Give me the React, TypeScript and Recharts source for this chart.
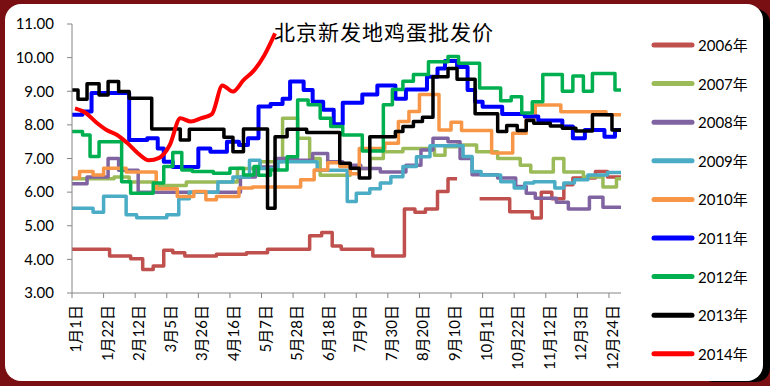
import React from "react";
import { LineChart, Line, XAxis, YAxis } from "recharts";

// x positions are day-of-year (0 = 1月1日); step series list the day each new price starts
const dayTicks = [0, 21, 42, 63, 84, 105, 126, 147, 168, 189, 210, 231, 252, 273, 294, 315, 336, 357];
const tickLabels = [
  "1月1日", "1月22日", "2月12日", "3月5日", "3月26日", "4月16日", "5月7日", "5月28日", "6月18日",
  "7月9日", "7月30日", "8月20日", "9月10日", "10月1日", "10月22日", "11月12日", "12月3日", "12月24日",
];
const yTicks = [3, 4, 5, 6, 7, 8, 9, 10, 11];

const days2006 = [0, 25, 39, 47, 54, 61, 67, 75, 96, 116, 130, 158, 166, 173, 179, 200, 221, 228, 235, 243, 250, 256, 271, 291, 306, 312, 319, 327, 333, 348, 356];
const vals2006 = [4.3, 4.1, 4.02, 3.7, 3.8, 4.27, 4.2, 4.1, 4.15, 4.2, 4.3, 4.7, 4.8, 4.4, 4.3, 4.1, 5.5, 5.4, 5.5, 6.02, 6.4, null, 5.8, 5.42, 5.23, 6.0, 5.8, 6.22, 6.42, 6.61, 6.45];

const days2007 = [0, 28, 38, 56, 76, 110, 125, 140, 150, 158, 165, 185, 198, 207, 220, 241, 248, 256, 269, 283, 298, 305, 320, 327, 340, 353, 362];
const vals2007 = [6.4, 6.45, 6.3, 6.2, 6.3, 6.7, 6.9, 8.2, 7.6, 7.0, 6.5, 6.7, 7.0, 7.2, 7.3, 7.1, 7.35, 7.4, 7.2, 7.0, 6.8, 6.6, 7.0, 6.6, 6.45, 6.15, 6.4];

const days2008 = [0, 10, 24, 31, 44, 112, 122, 135, 150, 160, 170, 180, 192, 205, 222, 232, 240, 250, 258, 266, 283, 295, 302, 308, 322, 330, 344, 353];
const vals2008 = [6.25, 6.45, 7.0, 6.65, 6.0, 6.45, 6.75, 7.0, 6.95, 7.15, 6.9, 6.8, 6.7, 6.6, 6.8, 7.25, 7.6, 7.5, 7.0, 6.52, 6.42, 6.17, 5.97, 5.82, 5.7, 5.5, 5.85, 5.55];

const days2009 = [0, 14, 21, 36, 43, 63, 71, 78, 97, 107, 118, 125, 137, 163, 183, 189, 198, 205, 212, 220, 229, 238, 260, 266, 272, 285, 294, 301, 307, 321, 327, 334, 343, 356];
const vals2009 = [5.52, 5.4, 5.88, 5.33, 5.24, 5.33, 5.8, 6.0, 6.3, 6.45, 6.95, 6.7, 6.9, 6.65, 5.72, 5.97, 6.1, 6.27, 6.46, 6.76, 7.05, 7.38, 7.06, 6.61, 6.51, 6.31, 6.12, 6.27, 6.31, 6.12, 6.27, 6.37, 6.51, 6.58];

const days2010 = [0, 5, 14, 21, 36, 56, 70, 81, 89, 96, 111, 120, 152, 161, 170, 178, 185, 191, 208, 217, 224, 231, 244, 252, 259, 279, 293, 302, 308, 325, 355];
const vals2010 = [6.42, 6.61, 6.51, 6.71, 6.6, 6.1, 5.87, 6.02, 5.77, 5.87, 6.12, 6.15, 6.37, 6.66, 6.87, 6.76, 6.55, 7.3, 7.45, 8.1, 8.4, 8.9, 7.85, 8.08, 7.83, 7.16, 7.75, 8.2, 8.59, 8.39, 8.3];

const days2011 = [0, 7, 13, 38, 50, 57, 61, 67, 84, 92, 103, 111, 117, 124, 132, 140, 145, 154, 160, 167, 174, 180, 193, 203, 215, 222, 236, 243, 248, 256, 263, 268, 273, 286, 301, 310, 326, 333, 341, 354, 361];
const vals2011 = [8.3, 8.4, 8.95, 7.55, 7.6, 7.3, 6.9, 6.75, 7.3, 7.2, 7.5, 7.4, 7.6, 8.55, 8.62, 8.78, 9.29, 9.04, 8.69, 8.45, 8.02, 8.66, 8.9, 9.17, 8.78, 9.05, 9.43, 9.68, 9.9, 9.72, 9.04, 8.69, 8.54, 8.32, 8.25, 8.13, 7.95, 7.6, 7.85, 7.65, 7.85];

const days2012 = [0, 7, 12, 18, 33, 39, 54, 61, 67, 73, 80, 94, 105, 114, 121, 124, 132, 143, 150, 157, 165, 172, 180, 193, 207, 213, 220, 227, 237, 250, 257, 271, 285, 292, 299, 306, 313, 326, 333, 340, 346, 361];
const vals2012 = [7.8, 7.7, 7.06, 7.5, 6.31, 5.97, 6.27, 6.76, 7.18, 6.66, 6.61, 6.56, 6.71, 6.51, 6.76, 6.5, 6.66, 7.05, 8.74, 8.6, 8.2, 7.95, 7.7, 7.22, 8.6, 9.05, 9.3, 9.5, 9.88, 10.03, 9.83, 9.1, 8.72, 8.84, 8.35, 8.69, 9.5, 9.0, 9.45, 9.0, 9.53, 9.04];

const days2013 = [0, 4, 10, 18, 24, 31, 38, 53, 72, 78, 101, 107, 114, 130, 135, 143, 156, 178, 185, 191, 198, 215, 220, 227, 233, 240, 250, 256, 268, 283, 289, 296, 302, 307, 318, 326, 335, 346, 359];
const vals2013 = [9.04, 8.76, 9.22, 8.89, 9.29, 8.99, 8.79, 7.88, 7.55, 7.87, 7.63, 7.2, 7.88, 5.52, 7.65, 7.87, 7.77, 6.86, 6.71, 6.42, 7.65, 7.8, 7.95, 8.1, 8.23, 9.43, 9.68, 9.36, 8.33, 7.8, 7.98, 7.83, 8.13, 8.05, 7.97, 7.9, 7.82, 8.3, 7.85];

// 2014 is weekly, drawn smooth
const days2014 = [2, 9, 16, 23, 30, 37, 44, 51, 58, 65, 72, 79, 86, 93, 100, 107, 114, 121, 128, 135];
const vals2014 = [8.49, 8.36, 8.08, 7.85, 7.7, 7.45, 7.15, 6.95, 7.02, 7.4, 8.2, 8.1, 8.2, 8.32, 9.17, 8.99, 9.33, 9.62, 10.08, 10.72];

const FONT = "Lato, 'Noto Sans CJK SC', sans-serif";

function steps(days: number[], vals: (number | null)[]) {
  const out: { day: number; v: number | null }[] = [];
  for (let i = 0; i < days.length; i++) {
    if (vals[i] === null) {
      out.push({ day: days[i], v: vals[i - 1] });
      out.push({ day: days[i], v: null });
    } else {
      out.push({ day: days[i], v: vals[i] });
    }
  }
  out.push({ day: 365, v: vals[vals.length - 1] });
  return out;
}

const series = [
  { name: "2006年", color: "#C0504D", data: steps(days2006, vals2006) },
  { name: "2007年", color: "#9BBB59", data: steps(days2007, vals2007) },
  { name: "2008年", color: "#8064A2", data: steps(days2008, vals2008) },
  { name: "2009年", color: "#4BACC6", data: steps(days2009, vals2009) },
  { name: "2010年", color: "#F79646", data: steps(days2010, vals2010) },
  { name: "2011年", color: "#0000FF", data: steps(days2011, vals2011) },
  { name: "2012年", color: "#00B050", data: steps(days2012, vals2012) },
  { name: "2013年", color: "#000000", data: steps(days2013, vals2013) },
];
const data2014 = days2014.map((d, i) => ({ day: d, v: vals2014[i] }));
const legendItems = [...series.map((s) => ({ name: s.name, color: s.color })), { name: "2014年", color: "#FF0000" }];

const XTick = (props: any) => {
  const { x, y, payload } = props;
  const label = tickLabels[dayTicks.indexOf(payload.value)];
  return (
    <text
      transform={`translate(${x + 3},${y + 5}) rotate(-90)`}
      textAnchor="end"
      dominantBaseline="central"
      fontSize={15}
      fontFamily={FONT}
      fill="#000"
    >
      {label}
    </text>
  );
};

export default function App() {
  return (
    <div style={{ position: "relative", width: 770, height: 386, background: "#7a0f13", overflow: "hidden" }}>
      <style>{"body{margin:0}"}</style>
      <div style={{ position: "absolute", left: 700, top: 9, width: 70, height: 373, background: "#000", borderRadius: 14 }} />
      <div style={{ position: "absolute", left: 5, top: 4, width: 758, height: 377, background: "#fff", borderRadius: 16 }} />
      <div style={{ position: "absolute", left: 0, top: 0 }}>
        <LineChart width={770} height={386} margin={{ top: 24, right: 149, left: 0, bottom: 0 }}>
          <XAxis
            type="number"
            dataKey="day"
            domain={[0, 365]}
            ticks={dayTicks}
            interval={0}
            height={93}
            tick={<XTick />}
            tickSize={5}
            stroke="#868686"
            allowDataOverflow
          />
          <YAxis
            type="number"
            domain={[3, 11]}
            ticks={yTicks}
            interval={0}
            width={72}
            tickSize={5}
            tickMargin={13}
            stroke="#868686"
            tickFormatter={(v: number) => v.toFixed(2)}
            tick={{ fill: "#000", fontSize: 15, fontFamily: FONT }}
          />
          {series.map((s) => (
            <Line
              key={s.name}
              data={s.data}
              dataKey="v"
              name={s.name}
              type="stepAfter"
              stroke={s.color}
              strokeWidth={s.name === "2011年" ? 4 : 3.5}
              strokeLinejoin="round"
              dot={false}
              isAnimationActive={false}
            />
          ))}
          <Line
            data={data2014}
            dataKey="v"
            name="2014年"
            type="monotone"
            stroke="#FF0000"
            strokeWidth={4}
            dot={false}
            isAnimationActive={false}
          />
        </LineChart>
      </div>
      <div
        style={{
          position: "absolute",
          left: 274,
          top: 18,
          fontFamily: "'Noto Sans CJK SC', sans-serif",
          fontSize: 21,
          lineHeight: "26px",
          letterSpacing: 1,
          color: "#000",
          whiteSpace: "nowrap",
        }}
      >
        北京新发地鸡蛋批发价
      </div>
      <svg style={{ position: "absolute", left: 640, top: 20 }} width={110} height={350}>
        {legendItems.map((it, i) => {
          const cy = 25 + i * 38.6;
          return (
            <g key={it.name}>
              <line x1={14} x2={52} y1={cy} y2={cy} stroke={it.color} strokeWidth={5} strokeLinecap="round" />
              <text x={58} y={cy} dominantBaseline="central" fontSize={15} fontFamily={FONT} fill="#000">
                {it.name}
              </text>
            </g>
          );
        })}
      </svg>
    </div>
  );
}
